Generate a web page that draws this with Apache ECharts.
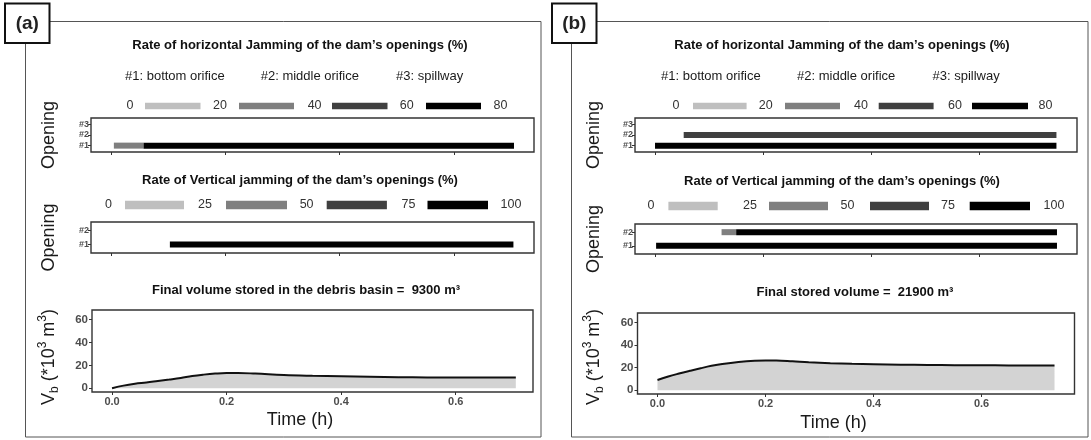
<!DOCTYPE html>
<html><head><meta charset="utf-8">
<script src="https://cdn.jsdelivr.net/npm/echarts@6/dist/echarts.min.js"></script>
<style>html,body{margin:0;padding:0;background:#fff}#c{width:1091px;height:440px}</style>
</head><body><div id="c"></div>
<script>
// ---------------- data ----------------
const openingsH = ['#1', '#2', '#3'];
const openingsV = ['#1', '#2'];
const hLegendBreaks = [0, 20, 40, 60, 80];
const vLegendBreaks = [0, 25, 50, 75, 100];
const binColors = ['#bfbfbf', '#7f7f7f', '#404040', '#000000'];
const timeTicks = [0, 0.2, 0.4, 0.6];
const volumeTicks = [0, 20, 40, 60];
const openingNames = ['#1: bottom orifice', '#2: middle orifice', '#3: spillway'];

// jamming segments: [start (h), end (h), opening number, rate (%)]
const hJamA = [[0.005, 0.057, 1, 30], [0.057, 0.705, 1, 70]];
const vJamA = [[0.103, 0.704, 1, 100]];
const hJamB = [[0.053, 0.742, 2, 50], [0.0, 0.742, 1, 70]];
const vJamB = [[0.123, 0.15, 2, 40], [0.15, 0.743, 2, 100], [0.002, 0.743, 1, 100]];

// stored volume (*10^3 m3)
const timeA = [0, 0.02, 0.04, 0.06, 0.08, 0.10, 0.12, 0.14, 0.16, 0.18, 0.20, 0.22, 0.25, 0.30, 0.35, 0.40, 0.45, 0.50, 0.55, 0.60, 0.65, 0.705];
const volA  = [0, 2.3, 3.9, 5.0, 6.3, 7.6, 9.0, 10.7, 11.9, 12.8, 13.3, 13.3, 12.8, 11.6, 10.9, 10.4, 10.0, 9.7, 9.5, 9.4, 9.3, 9.3];
const timeB = [0, 0.02, 0.04, 0.06, 0.08, 0.10, 0.12, 0.15, 0.18, 0.20, 0.22, 0.25, 0.28, 0.32, 0.36, 0.40, 0.45, 0.50, 0.55, 0.60, 0.65, 0.70, 0.735];
const volB  = [9.1, 12.2, 14.8, 17.2, 19.5, 21.6, 23.3, 25.1, 26.2, 26.4, 26.3, 25.6, 24.8, 24.0, 23.4, 23.0, 22.6, 22.4, 22.2, 22.1, 22.0, 21.9, 21.9];
const finalVolA = 9300;
const finalVolB = 21900;

// ---------------- helpers ----------------
const F = "'Liberation Sans', Arial, Helvetica, sans-serif";
function binColor(rate, breaks) {
  let i = 0;
  while (i < breaks.length - 2 && rate >= breaks[i + 1]) i++;
  return binColors[i];
}
function segRender(breaks) {
  return function (params, api) {
    const a = api.coord([api.value(0), api.value(2)]);
    const b = api.coord([api.value(1), api.value(2)]);
    const h = 6;
    return { type: 'rect', shape: { x: a[0], y: a[1] - h / 2, width: b[0] - a[0], height: h },
      style: { fill: binColor(api.value(3), breaks) } };
  };
}
function txt(x, y, text, st, extra) {
  return Object.assign({ type: 'text', x: x, y: y, silent: true,
    style: Object.assign({ text: text, fontFamily: F, fontSize: 13, fill: '#1a1a1a',
      align: 'center', verticalAlign: 'middle', textAlign: 'center', textVerticalAlign: 'middle' }, st || {}) }, extra || {});
}
function colorLegend(y, labelXs, bars, breaks, h) {
  const els = [];
  breaks.forEach((b, i) => els.push(txt(labelXs[i], y, String(b), { fontSize: 12.5, fill: '#333' })));
  bars.forEach((r, i) => els.push({ type: 'rect', silent: true, shape: { x: r[0], y: y - h / 2, width: r[1] - r[0], height: h }, style: { fill: binColors[i] } }));
  return els;
}
function vbLabel(x, y) {
  const base = { fontFamily: F, fontSize: 18, lineHeight: 24, fill: '#1a1a1a' };
  return txt(x, y, '{v|V}{s|b}{v| (*10}{p|3}{v| m}{p|3}{v|)}', {
    rich: { v: base, s: { fontFamily: F, fontSize: 12, fill: '#1a1a1a', verticalAlign: 'bottom' },
            p: { fontFamily: F, fontSize: 12, fill: '#1a1a1a', verticalAlign: 'top' } }
  }, { rotation: Math.PI / 2 });
}

const grids = [
  { left: 91, top: 118, width: 443, height: 34 },
  { left: 91, top: 222, width: 443, height: 31 },
  { left: 92, top: 310, width: 441, height: 82 },
  { left: 635, top: 118, width: 442, height: 34 },
  { left: 635, top: 224, width: 442, height: 30 },
  { left: 637.5, top: 313, width: 437, height: 81 }
].map(g => Object.assign({ show: true, borderColor: '#333', borderWidth: 1.4, backgroundColor: 'transparent' }, g));

function xAx(gi, min, max, labels) {
  return { type: 'value', gridIndex: gi, min: min, max: max, splitLine: { show: false },
    axisLine: { show: false, onZero: false },
    axisTick: { show: true, length: 3, customValues: timeTicks, lineStyle: { color: '#333' } },
    axisLabel: { show: labels, customValues: timeTicks, formatter: v => v.toFixed(1), color: '#4d4d4d',
      fontWeight: 'bold', fontSize: 11, fontFamily: F, margin: 4 } };
}
function yOpen(gi, names) {
  const vals = names.map((_, i) => i + 1);
  return { type: 'value', gridIndex: gi, min: 0.4, max: names.length + 0.6, splitLine: { show: false },
    axisLine: { show: false, onZero: false },
    axisTick: { show: true, length: 3, customValues: vals, lineStyle: { color: '#333' } },
    axisLabel: { customValues: vals, formatter: v => names[Math.round(v) - 1], color: '#4d4d4d',
      fontWeight: 'bold', fontSize: 9, fontFamily: F, margin: 2 } };
}
function yVol(gi) {
  return { type: 'value', gridIndex: gi, min: -3.25, max: 68.25, splitLine: { show: false },
    axisLine: { show: false, onZero: false },
    axisTick: { show: true, length: 3, customValues: volumeTicks, lineStyle: { color: '#333' } },
    axisLabel: { customValues: volumeTicks, color: '#4d4d4d', fontWeight: 'bold', fontSize: 11.5, fontFamily: F, margin: 4 } };
}
function seg(gi, data, breaks) {
  return { type: 'custom', xAxisIndex: gi, yAxisIndex: gi, data: data, renderItem: segRender(breaks), silent: true };
}
function vol(gi, t, v) {
  return { type: 'line', xAxisIndex: gi, yAxisIndex: gi, data: t.map((x, i) => [x, v[i]]), smooth: 0.4,
    symbol: 'none', silent: true, lineStyle: { color: '#111', width: 2 },
    areaStyle: { color: '#d3d3d3', opacity: 1 } };
}

// ---------------- decorations ----------------
const g = [];
g.push({ type: 'rect', silent: true, shape: { x: 25.5, y: 21.5, width: 515.5, height: 415.5 }, style: { fill: null, stroke: '#555', lineWidth: 1 } });
g.push({ type: 'rect', silent: true, shape: { x: 571.5, y: 21.5, width: 516.5, height: 415.5 }, style: { fill: null, stroke: '#555', lineWidth: 1 } });
g.push({ type: 'rect', silent: true, shape: { x: 5, y: 3.5, width: 44.5, height: 39.5 }, style: { fill: '#fff', stroke: '#111', lineWidth: 2 } });
g.push({ type: 'rect', silent: true, shape: { x: 552, y: 3.5, width: 44.5, height: 39.5 }, style: { fill: '#fff', stroke: '#111', lineWidth: 2 } });
g.push(txt(27.3, 23.5, '(a)', { fontSize: 19, fontWeight: 'bold', fill: '#222' }));
g.push(txt(574.3, 23.5, '(b)', { fontSize: 19, fontWeight: 'bold', fill: '#222' }));

const T = { fontSize: 13, fontWeight: 'bold', fill: '#111' };
// panel (a)
g.push(txt(300, 45, 'Rate of horizontal Jamming of the dam\u2019s openings (%)', T));
[125, 260.7, 396].forEach((x, i) => g.push(txt(x, 76, openingNames[i], { align: 'left', textAlign: 'left', fontSize: 13, fill: '#1a1a1a' })));
g.push(...colorLegend(106, [130, 220, 314.6, 406.7, 500.5], [[145, 200.5], [239, 294], [332, 387.5], [426, 481]], hLegendBreaks, 6.5));
g.push(txt(300, 180, 'Rate of Vertical jamming of the dam\u2019s openings (%)', T));
g.push(...colorLegend(205, [108.4, 205, 306.6, 408.4, 511], [[125, 184], [226, 287], [326.7, 386.9], [427.5, 488]], vLegendBreaks, 8.5));
g.push(txt(306, 290, 'Final volume stored in the debris basin =  ' + finalVolA + ' m\u00b3', T));
g.push(txt(48.7, 135, 'Opening', { fontSize: 18 }, { rotation: Math.PI / 2 }));
g.push(txt(48.7, 237.5, 'Opening', { fontSize: 18 }, { rotation: Math.PI / 2 }));
g.push(vbLabel(48.7, 357));
g.push(txt(300, 420, 'Time (h)', { fontSize: 18 }));
// panel (b)
g.push(txt(842, 45, 'Rate of horizontal Jamming of the dam\u2019s openings (%)', T));
[661, 797, 932.5].forEach((x, i) => g.push(txt(x, 76, openingNames[i], { align: 'left', textAlign: 'left', fontSize: 13, fill: '#1a1a1a' })));
g.push(...colorLegend(106, [676, 765.7, 861, 955, 1045.5], [[693, 746.6], [785, 840], [878.7, 933.6], [972, 1028]], hLegendBreaks, 6.5));
g.push(txt(842, 181, 'Rate of Vertical jamming of the dam\u2019s openings (%)', T));
g.push(...colorLegend(206, [651, 750, 847.4, 948, 1054], [[668.4, 717.7], [769, 828], [870, 929], [969.7, 1030]], vLegendBreaks, 8.5));
g.push(txt(855, 292, 'Final stored volume =  ' + finalVolB + ' m\u00b3', T));
g.push(txt(593.7, 135, 'Opening', { fontSize: 18 }, { rotation: Math.PI / 2 }));
g.push(txt(593.7, 239, 'Opening', { fontSize: 18 }, { rotation: Math.PI / 2 }));
g.push(vbLabel(593.7, 357));
g.push(txt(833.5, 423, 'Time (h)', { fontSize: 18 }));

const chart = echarts.init(document.getElementById('c'), null, { renderer: 'canvas' });
chart.setOption({
  animation: false,
  backgroundColor: '#fff',
  grid: grids,
  xAxis: [xAx(0, -0.035, 0.74, false), xAx(1, -0.035, 0.74, false), xAx(2, -0.035, 0.735, true),
          xAx(3, -0.037, 0.78, false), xAx(4, -0.037, 0.78, false), xAx(5, -0.037, 0.772, true)],
  yAxis: [yOpen(0, openingsH), yOpen(1, openingsV), yVol(2), yOpen(3, openingsH), yOpen(4, openingsV), yVol(5)],
  series: [seg(0, hJamA, hLegendBreaks), seg(1, vJamA, vLegendBreaks), vol(2, timeA, volA),
           seg(3, hJamB, hLegendBreaks), seg(4, vJamB, vLegendBreaks), vol(5, timeB, volB)],
  graphic: { elements: g }
});
</script></body></html>
